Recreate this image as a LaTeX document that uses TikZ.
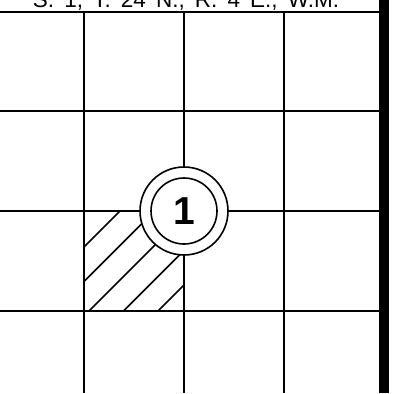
\documentclass[tikz,border=0pt]{standalone}
\usepackage{fontspec}
\setmainfont{Liberation Sans}
\usetikzlibrary{positioning}
\tikzset{
  gridline/.style={line width=1.6pt},
  hatch/.style={line width=1.5pt},
  ring/.style={circle,draw,line width=1.6pt,inner sep=0pt}
}

\begin{document}
\begin{tikzpicture}[x=1pt,y=-1pt]
  \useasboundingbox (0,0) rectangle (401,393);
  % hatched quarter
  \begin{scope}
    \clip (84,211) rectangle (184,311);
    \foreach \c in {331,365.5,400,434.5,469}
      \draw[hatch] (\c-311,311) -- (\c-211,211);
  \end{scope}
  \foreach \x in {84,184,284}
    \draw[gridline] (\x,12) -- (\x,393);
  \foreach \y in {12,111,211,311}
    \draw[gridline] (0,\y) -- (379,\y);
  \fill (379,0) rectangle (389,393);
  \node[anchor=base,font=\fontsize{22.5}{27}\selectfont] (title) at (186,8)
    {\spaceskip=0.45em S. 1, T. 24 N., R. 4 E., W.M.};
  \node[ring,fill=white,minimum size=88pt] (outer) at (184,211) {};
  \node[ring,minimum size=66pt,font=\fontsize{39}{40}\selectfont\bfseries] (sec) at (outer) {1};
\end{tikzpicture}
\end{document}
